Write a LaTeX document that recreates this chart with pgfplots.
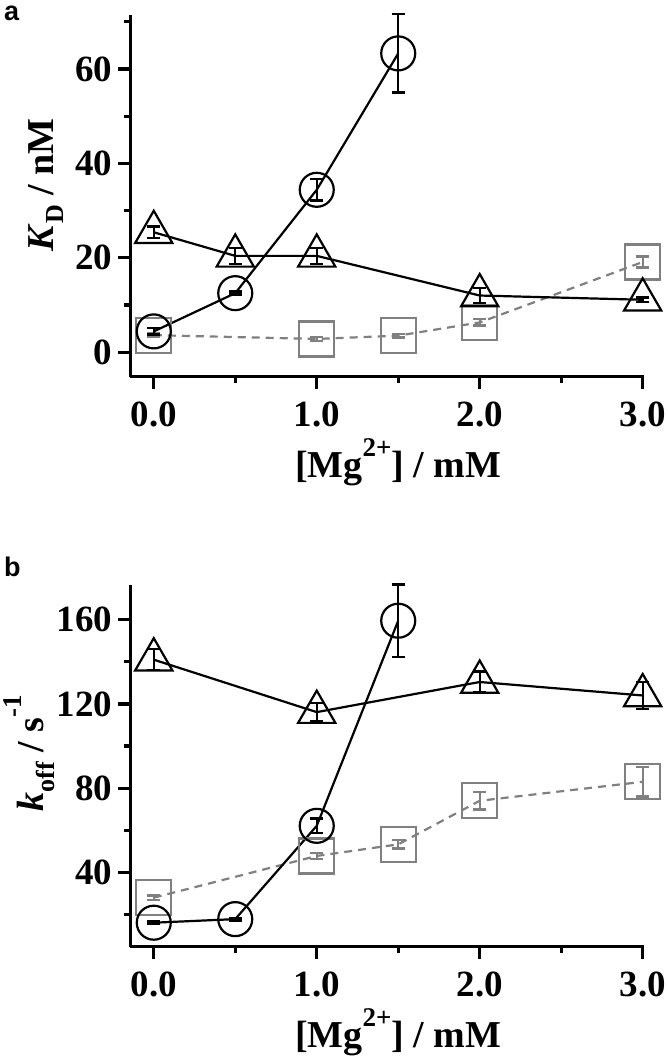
\documentclass[border=0pt]{standalone}
\usepackage{fontspec}
\setmainfont{Liberation Serif}
\newfontfamily\panelfont{Liberation Sans}
\usepackage{pgfplots}
\usepackage{pgfplotstable}
\pgfplotsset{compat=1.18}

\definecolor{sqgray}{RGB}{128,128,128}

% panel a
\pgfplotstableread{
x y e
0 4.4 0.7
0.5 12.5 0.3
1.0 34.4 2.3
1.5 63.3 8.3
}\acirc
\pgfplotstableread{
x y e
0 25.4 1.2
0.5 20.4 1.7
1.0 20.4 1.7
2.0 12.0 1.6
3.0 11.1 0.5
}\atri
\pgfplotstableread{
x y e
0 3.6 0.4
1.0 2.8 0.4
1.5 3.5 0.4
2.0 6.3 0.7
3.0 19.1 1.2
}\asq
% panel b
\pgfplotstableread{
x y e
0 16.1 0.6
0.5 17.8 0.6
1.0 62.1 3.5
1.5 159.5 17.3
}\bcirc
\pgfplotstableread{
x y e
0 141 5
1.0 116.1 4.3
2.0 130.4 5
3.0 124 6.5
}\btri
\pgfplotstableread{
x y e
0 28 1
1.0 47.8 1.5
1.5 53.3 2
2.0 74 4.2
3.0 83 7
}\bsq

\newcommand{\lblfont}{\fontsize{38}{42}\selectfont\bfseries}
\newcommand{\subfont}{\fontsize{26}{26}\selectfont}
\newcommand{\supfont}{\fontsize{27}{27}\selectfont}

\pgfplotsset{
  common/.style={
    scale only axis, width=514pt, height=362pt, anchor=south west,
    clip=false,
    axis x line*=bottom, axis y line*=left,
    axis line style={line width=3.2pt, black, -},
    xmin=-0.144, xmax=3.01,
    xtick={0,1,2,3}, xticklabels={0.0,1.0,2.0,3.0},
    minor xtick={0.5,1.5,2.5},
    tick align=outside,
    major tick length=12pt, minor tick length=6pt,
    every tick/.style={black, line width=3.2pt},
    tick label style={font=\fontsize{37}{37}\selectfont\bfseries, black},
    xticklabel style={inner sep=0pt, yshift=-13pt},
    yticklabel style={inner sep=0pt, xshift=-6pt},
    every axis x label/.style={at={(axis description cs:0.521,0)}, anchor=base, yshift=-101pt, font=\lblfont},
  },
  cir/.style={black, line width=2.2pt, mark=o, mark size=17pt, mark options={solid, line width=2.2pt},
    error bars/.cd, y dir=both, y explicit,
    error bar style={line width=2pt, black, solid},
    error mark options={line width=2.5pt, mark size=6.5pt, black, solid, rotate=90}},
  tri/.style={black, line width=2.2pt, mark=triangle, mark size=21.5pt, mark options={solid, line width=2.2pt},
    error bars/.cd, y dir=both, y explicit,
    error bar style={line width=2pt, black, solid},
    error mark options={line width=2.5pt, mark size=6.5pt, black, solid, rotate=90}},
  sq/.style={sqgray, line width=2.2pt, dash pattern=on 8pt off 6pt, mark=square, mark size=17.5pt, mark options={solid, line width=2.2pt},
    error bars/.cd, y dir=both, y explicit,
    error bar style={line width=2pt, sqgray, solid},
    error mark options={line width=2.5pt, mark size=6.5pt, sqgray, solid, rotate=90}},
}

\begin{document}
\begin{tikzpicture}
\useasboundingbox (0,0) rectangle (668pt,-1057pt);

\begin{axis}[common, at={(130.3pt,-376.7pt)},
  ymin=-5.2, ymax=71.5,
  ytick={0,20,40,60}, yticklabels={0,20,40,60},
  minor ytick={10,30,50,70},
  xlabel={[Mg\raisebox{0.55em}{\supfont 2+}] / mM},
  every axis y label/.style={at={(axis description cs:-0.150,0.53)}, rotate=90, anchor=base, font=\lblfont},
  ylabel={\textit{K}\raisebox{-0.28em}{\subfont D} / nM},
]
\addplot[sq] table[x=x, y=y, y error=e] {\asq};
\addplot[tri] table[x=x, y=y, y error=e] {\atri};
\addplot[cir] table[x=x, y=y, y error=e] {\acirc};
\end{axis}

\begin{axis}[common, at={(130.3pt,-946.7pt)},
  ymin=4.7, ymax=176.6,
  ytick={40,80,120,160}, yticklabels={40,80,120,160},
  minor ytick={20,60,100,140},
  xlabel={[Mg\raisebox{0.55em}{\supfont 2+}] / mM},
  every axis y label/.style={at={(axis description cs:-0.168,0.535)}, rotate=90, anchor=base, font=\lblfont},
  ylabel={\textit{k}\raisebox{-0.28em}{\subfont off} / s\raisebox{0.6em}{\supfont -1}},
]
\addplot[sq] table[x=x, y=y, y error=e] {\bsq};
\addplot[tri] table[x=x, y=y, y error=e] {\btri};
\addplot[cir] table[x=x, y=y, y error=e] {\bcirc};
\end{axis}

\node[anchor=base west, inner sep=0pt, font=\panelfont\bfseries\fontsize{27}{27}\selectfont] at (4pt,-21pt) {a};
\node[anchor=base west, inner sep=0pt, font=\panelfont\bfseries\fontsize{27}{27}\selectfont] at (4pt,-576pt) {b};
\end{tikzpicture}
\end{document}
